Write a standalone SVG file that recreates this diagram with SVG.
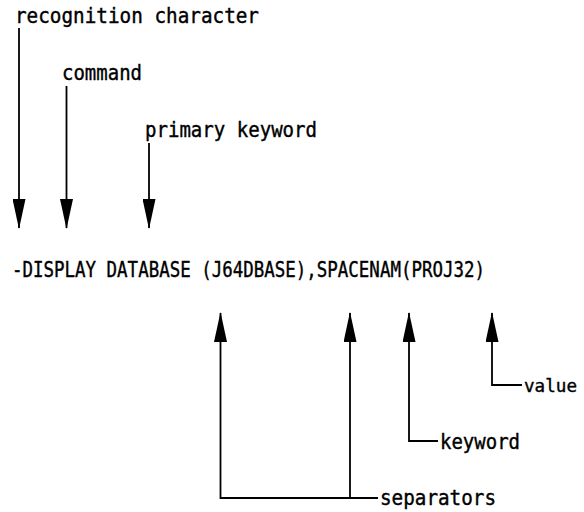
<svg xmlns="http://www.w3.org/2000/svg" width="584" height="512" viewBox="0 0 584 512">
<style>
text { font-family: "DejaVu Sans Mono", "Liberation Mono", monospace; font-size: 21px; fill: #000; stroke: #000; stroke-width: 0.4; }
.ln { stroke: #000; stroke-width: 1.8; fill: none; }
</style>
<defs>
<marker id="ah" viewBox="0 0 30 13" markerWidth="30" markerHeight="13" refX="29" refY="6.5" orient="auto" markerUnits="userSpaceOnUse">
<path d="M0,0 L30,6.5 L0,13 z" fill="#000"/>
</marker>
</defs>
<rect width="584" height="512" fill="#fff"/>
<g id="recognition-character"><text x="15" y="22.5" textLength="244" lengthAdjust="spacingAndGlyphs">recognition character</text></g>
<g id="command"><text x="62" y="80" textLength="80" lengthAdjust="spacingAndGlyphs">command</text></g>
<g id="primary-keyword"><text x="145" y="136.5" textLength="172" lengthAdjust="spacingAndGlyphs">primary keyword</text></g>
<g id="command-line"><text x="12" y="277" textLength="473" lengthAdjust="spacingAndGlyphs">-DISPLAY DATABASE (J64DBASE),SPACENAM(PROJ32)</text></g>
<g id="value"><text x="524" y="392" style="font-size:18.5px" textLength="53" lengthAdjust="spacingAndGlyphs">value</text></g>
<g id="keyword"><text x="440" y="449" textLength="80" lengthAdjust="spacingAndGlyphs">keyword</text></g>
<g id="separators"><text x="380" y="505" textLength="116" lengthAdjust="spacingAndGlyphs">separators</text></g>
<g id="connectors">
<path class="ln" d="M19,28 V228" marker-end="url(#ah)"/>
<path class="ln" d="M66.5,86 V228" marker-end="url(#ah)"/>
<path class="ln" d="M149,143 V228" marker-end="url(#ah)"/>
<path class="ln" d="M378,498 H220.5 V313" marker-end="url(#ah)"/>
<path class="ln" d="M350,498 V313" marker-end="url(#ah)"/>
<path class="ln" d="M438,441 H409 V313" marker-end="url(#ah)"/>
<path class="ln" d="M522,385 H492 V313" marker-end="url(#ah)"/>
</g>
</svg>
